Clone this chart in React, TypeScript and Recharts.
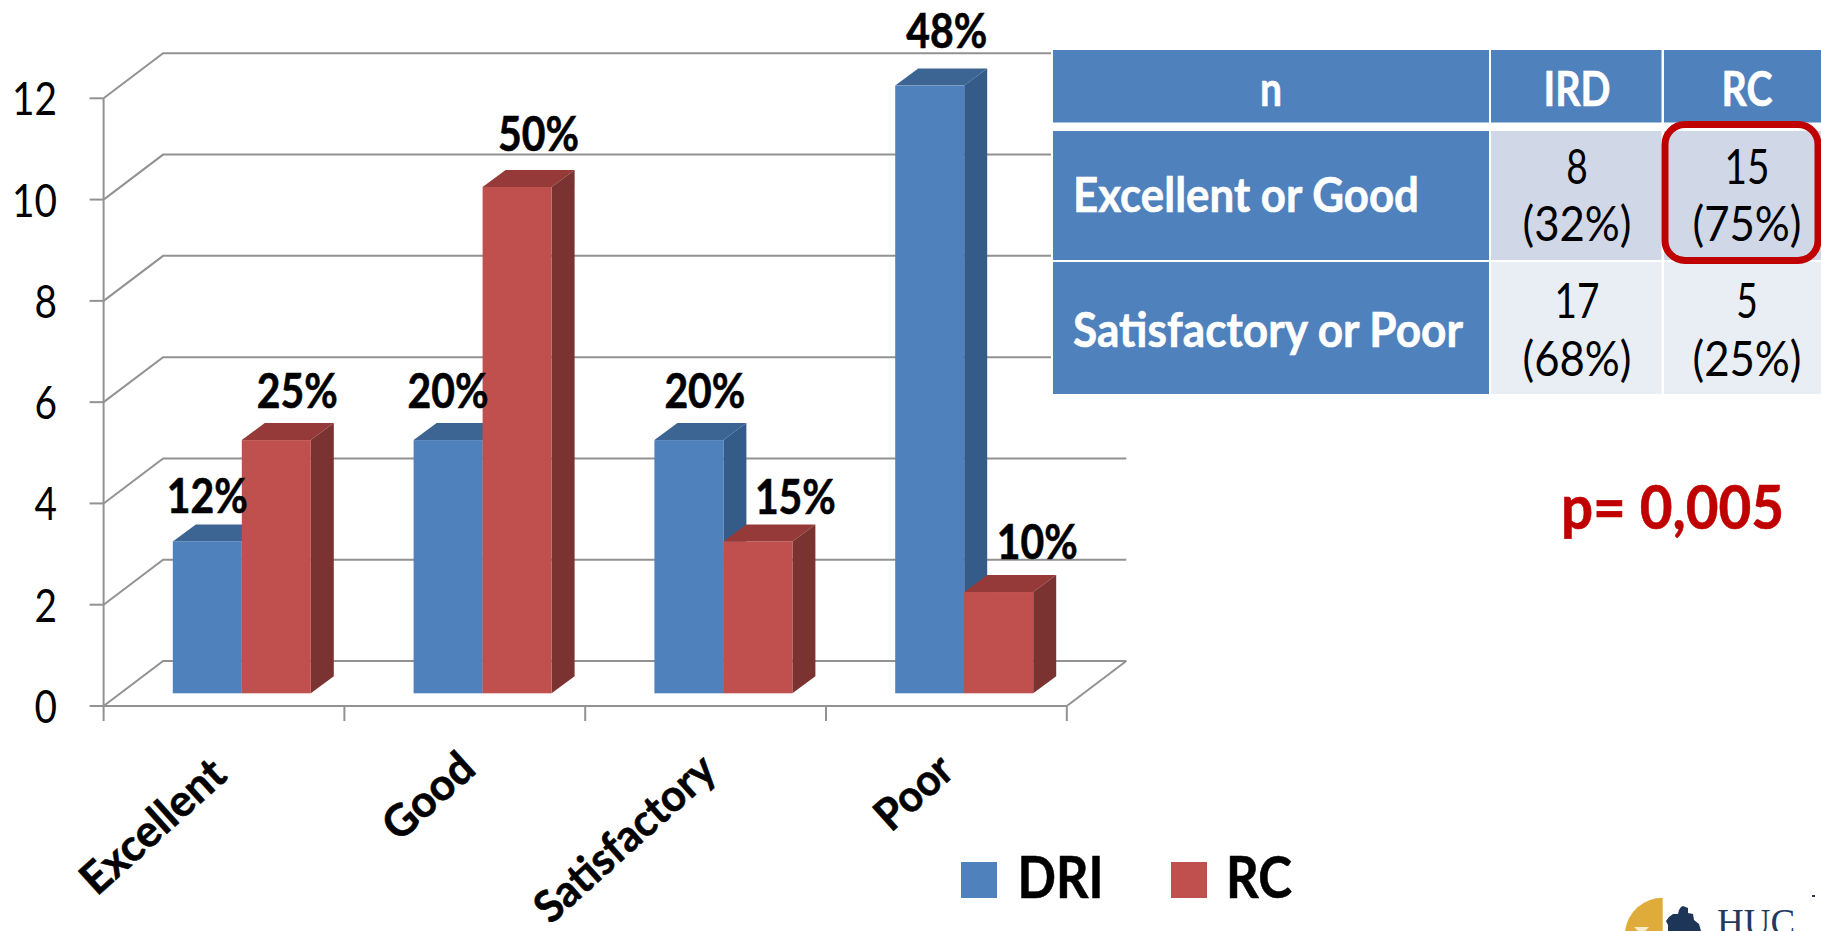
import { BarChart, Bar, XAxis, YAxis, CartesianGrid, LabelList, Legend } from "recharts"

const categories = ["Excellent", "Good", "Satisfactory", "Poor"]
const driValues = [3, 5, 5, 12]
const rcValues = [5, 10, 3, 2]
const driPercents = ["12%", "20%", "20%", "48%"]
const rcPercents = ["25%", "50%", "15%", "10%"]
const yTicks = [0, 2, 4, 6, 8, 10, 12]

const tableHeader = ["n", "IRD", "RC"]
const tableRows = ["Excellent or Good", "Satisfactory or Poor"]
const tableIrd = [["8", "(32%)"], ["17", "(68%)"]]
const tableRc = [["15", "(75%)"], ["5", "(25%)"]]

const chartData = categories.map((name, i) => ({
  name,
  dri: driValues[i],
  rc: rcValues[i],
  driPct: driPercents[i],
  rcPct: rcPercents[i],
}))

const FONT = "Lato"
const BLUE = "#4F81BD"
const RED = "#C0504D"
const GRID = "#929292"

// the fake 3d look: wall depth, bar depth and how far bars sit behind the axis
const WALL_DX = 59.5
const WALL_DY = -45
const BAR_DX = 17.8
const BAR_DY = -12.7
const DEPTH_DX = 23
const DEPTH_DY = -17
const BAND = 240.8

const shades: Record<string, { top: string; side: string }> = {
  [BLUE]: { top: "#3D6593", side: "#355B89" },
  [RED]: { top: "#953A38", side: "#7B3331" },
}

// hand placed labels in the original slide, offset from each bar's top
const driLabelNudge = [[0, -28], [0, -32], [16, -32], [17, -38]]
const rcLabelNudge = [[21, -32], [21.5, -35.5], [37.5, -27], [38.5, -33.5]]

// text squeezed to a measured width, the slide font is narrower than Lato
function Txt({ x, y, w, size = 48, bold = false, anchor = "middle", fill = "#000", rotate, children }: any) {
  return (
    <text
      x={x}
      y={y}
      textAnchor={anchor}
      fontFamily={FONT}
      fontSize={size}
      fontWeight={bold ? 700 : 400}
      fill={fill}
      stroke={bold ? fill : undefined}
      strokeWidth={bold ? 0.6 : undefined}
      textLength={w}
      lengthAdjust="spacingAndGlyphs"
      transform={rotate ? `rotate(${rotate} ${x} ${y})` : undefined}
    >
      {children}
    </text>
  )
}

function Bar3D(props: any) {
  const { x, y, width, height, fill } = props
  const left = x + BAR_DX
  const top = y + BAR_DY
  const right = left + width
  const bottom = top + height
  const shade = shades[fill]
  return (
    <g>
      <polygon
        points={`${left},${top} ${left + DEPTH_DX},${top + DEPTH_DY} ${right + DEPTH_DX},${top + DEPTH_DY} ${right},${top}`}
        fill={shade.top}
      />
      <polygon
        points={`${right},${top} ${right + DEPTH_DX},${top + DEPTH_DY} ${right + DEPTH_DX},${bottom + DEPTH_DY} ${right},${bottom}`}
        fill={shade.side}
      />
      <rect x={left} y={top} width={width} height={height} fill={fill} />
    </g>
  )
}

function GridLine3D(props: any) {
  const { x1, y1, x2, index } = props
  const isFloor = y1 > 700
  return (
    <g key={index} stroke={GRID} strokeWidth={2} fill="none">
      <polyline points={`${x1},${y1} ${x1 + WALL_DX},${y1 + WALL_DY} ${x2 + WALL_DX},${y1 + WALL_DY}`} />
      {isFloor && <line x1={x2} y1={y1} x2={x2 + WALL_DX} y2={y1 + WALL_DY} />}
    </g>
  )
}

function YTick(props: any) {
  const { y, payload } = props
  const w = String(payload.value).length > 1 ? 45 : 22.5
  return (
    <Txt x={57} y={y + 17} w={w} size={47} anchor="end">
      {payload.value}
    </Txt>
  )
}

const xLabelWidth: Record<string, number> = { Excellent: 178, Good: 106, Satisfactory: 226, Poor: 88 }
const xLabelShift: Record<string, number[]> = {
  Excellent: [5, 39],
  Good: [13, 33],
  Satisfactory: [13, 35],
  Poor: [10, 35],
}

function XTick(props: any) {
  const { x, y, payload, index } = props
  const [sx, sy] = xLabelShift[payload.value]
  const edges = index === categories.length - 1 ? [x - BAND / 2, x + BAND / 2] : [x - BAND / 2]
  return (
    <g>
      {edges.map((e) => (
        <line key={e} x1={e} x2={e} y1={706} y2={721} stroke={GRID} strokeWidth={2} />
      ))}
      <Txt x={x + sx} y={y + sy + 25} w={xLabelWidth[payload.value]} size={44} bold anchor="end" rotate={-42}>
        {payload.value}
      </Txt>
    </g>
  )
}

function pctLabel(nudges: number[][]) {
  return (props: any) => {
    const { x, y, width, value, index } = props
    const [dx, dy] = nudges[index]
    return (
      <Txt x={x + width / 2 + BAR_DX + dx} y={y + BAR_DY + dy} w={81} size={47} bold>
        {value}
      </Txt>
    )
  }
}

function LegendBox({ payload }: any) {
  const spots = [
    { box: 961, text: 1017.5, w: 86 },
    { box: 1171, text: 1226, w: 66 },
  ]
  return (
    <svg width={400} height={90} style={{ display: "block" }} viewBox="950 830 400 90">
      {(payload || []).map((p: any, i: number) => (
        <g key={p.value}>
          <rect x={spots[i].box} y={862} width={36} height={36} fill={p.color} />
          <Txt x={spots[i].text} y={898} w={spots[i].w} size={58} bold anchor="start">
            {p.value}
          </Txt>
        </g>
      ))}
    </svg>
  )
}

function SideTable() {
  const colX = [1053, 1491, 1664]
  const colW = [436, 170.5, 157]
  const colMid = [1271, 1577, 1747]
  const rowY = [131, 262]
  const rowH = [129, 132]
  const rowFill = ["#D0D8E8", "#E9EDF4"]
  const labelWidths = [346, 390]
  const labelY = [212, 347]
  const topY = [184, 318]
  const pctY = [241, 376]
  return (
    <svg width={1821} height={931} style={{ position: "absolute", left: 0, top: 0 }}>
      <rect x={1051} y={48} width={770} height={349} fill="#fff" />
      {tableHeader.map((h, c) => (
        <g key={h}>
          <rect x={colX[c]} y={50} width={colW[c]} height={72.5} fill={BLUE} />
          <Txt x={colMid[c]} y={106} w={[22, 67, 51][c]} bold fill="#fff">
            {h}
          </Txt>
        </g>
      ))}
      {tableRows.map((label, r) => (
        <g key={label}>
          <rect x={colX[0]} y={rowY[r]} width={colW[0]} height={rowH[r]} fill={BLUE} />
          <Txt x={1073} y={labelY[r]} w={labelWidths[r]} bold anchor="start" fill="#fff">
            {label}
          </Txt>
          {[tableIrd[r], tableRc[r]].map((cell, c) => (
            <g key={c}>
              <rect x={colX[c + 1]} y={rowY[r]} width={colW[c + 1]} height={rowH[r]} fill={rowFill[r]} />
              <Txt x={colMid[c + 1]} y={topY[r]} w={cell[0].length > 1 ? 45 : 21.5}>
                {cell[0]}
              </Txt>
              <Txt x={colMid[c + 1]} y={pctY[r]} w={109}>
                {cell[1]}
              </Txt>
            </g>
          ))}
        </g>
      ))}
      <rect x={1665} y={124.5} width={153} height={136} rx={20} fill="none" stroke="#C00000" strokeWidth={7} />
      <Txt x={1561} y={529} w={223} size={62} bold anchor="start" fill="#C00000">
        p= 0,005
      </Txt>
      {/* logo peeking in at the bottom corner */}
      <path d="M1662.7 897.7 A38 38 0 0 0 1625 931 L1662.7 931 Z" fill="#DFAC3C" />
      <path d="M1634 927 h15 l-4 4 h-7 Z" fill="#F6EBCB" />
      <path
        d="M1683 906 l5 2 0 5 5 1 1 6 5 4 2 7 h-33 l0 -6 -2 -4 3 -4 4 -3 5 0 1 -4 2 -3 Z"
        fill="#1D3557"
      />
      <text x={1717} y={935} fontFamily="Liberation Serif" fontSize={37} fill="#1F3A5F">
        HUC
      </text>
      <rect x={1812} y={895} width={3} height={2} fill="#1F3A5F" />
    </svg>
  )
}

export default function App() {
  return (
    <div style={{ position: "absolute", left: 0, top: 0, width: 1821, height: 931, overflow: "hidden", background: "#fff" }}>
      <BarChart
        width={1821}
        height={931}
        data={chartData}
        margin={{ top: 98.3, right: 754.2, bottom: 0, left: 0 }}
        barCategoryGap={51.4}
        barGap={0}
      >
        <CartesianGrid vertical={false} horizontal={GridLine3D as any} />
        <XAxis
          dataKey="name"
          height={225}
          interval={0}
          tick={XTick as any}
          tickLine={false}
          axisLine={{ stroke: GRID, strokeWidth: 2 }}
        />
        <YAxis
          width={103.6}
          domain={[0, 12]}
          ticks={yTicks}
          tick={YTick as any}
          tickSize={14}
          tickLine={{ stroke: GRID, strokeWidth: 2 }}
          axisLine={{ stroke: GRID, strokeWidth: 2 }}
        />
        <Bar dataKey="dri" name="DRI" fill={BLUE} shape={Bar3D} isAnimationActive={false}>
          <LabelList dataKey="driPct" content={pctLabel(driLabelNudge) as any} />
        </Bar>
        <Bar dataKey="rc" name="RC" fill={RED} shape={Bar3D} isAnimationActive={false}>
          <LabelList dataKey="rcPct" content={pctLabel(rcLabelNudge) as any} />
        </Bar>
        <Legend
          layout="vertical"
          align="center"
          verticalAlign="middle"
          wrapperStyle={{ left: 950, top: 830, width: 400, height: 90 }}
          content={LegendBox as any}
        />
      </BarChart>
      <SideTable />
    </div>
  )
}
